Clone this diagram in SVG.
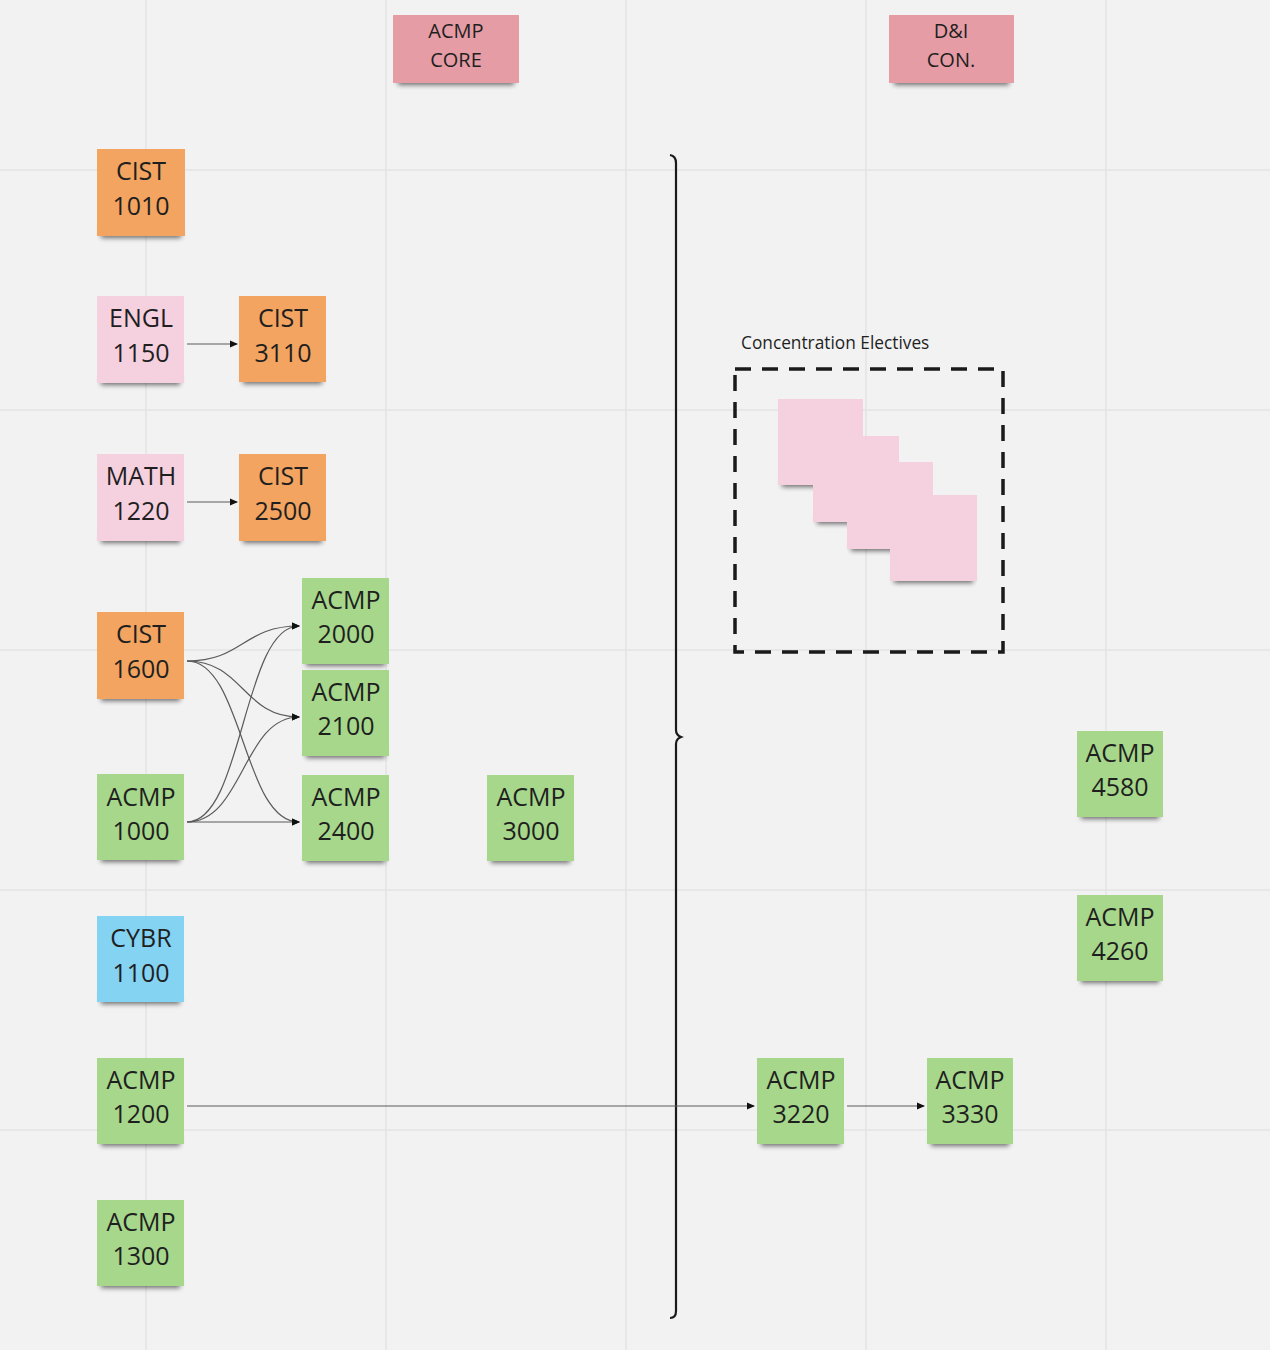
<svg xmlns="http://www.w3.org/2000/svg" width="1270" height="1350" viewBox="0 0 1270 1350">
<defs>
<filter id="sh" x="-20%" y="-100%" width="140%" height="300%"><feGaussianBlur stdDeviation="2.5"/></filter>
<marker id="ah" markerWidth="8" markerHeight="8" refX="7" refY="4" orient="auto" markerUnits="userSpaceOnUse"><path d="M0,0.5 L8,4 L0,7.5 Z" fill="#111"/></marker>
</defs>
<style>
.grid{stroke:#e3e3e3;stroke-width:1.5}
.shadow{fill:#000;opacity:.55;filter:url(#sh)}
.or{fill:#f2a460}
.pk{fill:#f5d0df}
.gr{fill:#a6d78b}
.bl{fill:#84d3f3}
.hd{fill:#e59ca5}
.t{font-family:"Open Sans","Liberation Sans",sans-serif;font-size:25px;fill:#1f1f1f;text-anchor:middle}
.th{font-family:"Open Sans","Liberation Sans",sans-serif;font-size:20px;fill:#1f1f1f;text-anchor:middle}
.cn{fill:none;stroke:#5a5a5a;stroke-width:1.2;marker-end:url(#ah)}
</style>
<rect width="1270" height="1350" fill="#f2f2f2"/>
<g id="grid">
<line class="grid" x1="146" y1="0" x2="146" y2="1350"/>
<line class="grid" x1="386" y1="0" x2="386" y2="1350"/>
<line class="grid" x1="626" y1="0" x2="626" y2="1350"/>
<line class="grid" x1="866" y1="0" x2="866" y2="1350"/>
<line class="grid" x1="1106" y1="0" x2="1106" y2="1350"/>
<line class="grid" x1="0" y1="170" x2="1270" y2="170"/>
<line class="grid" x1="0" y1="410" x2="1270" y2="410"/>
<line class="grid" x1="0" y1="650" x2="1270" y2="650"/>
<line class="grid" x1="0" y1="890" x2="1270" y2="890"/>
<line class="grid" x1="0" y1="1130" x2="1270" y2="1130"/>
</g>

<g id="bracket"><path d="M670,155 Q676,156 676,163 L676,730 Q676,735 681,737 Q676,739 676,744 L676,1311 Q676,1318 670,1318" fill="none" stroke="#1a1a1a" stroke-width="2.2"/></g>

<g id="electives">
<text x="741" y="349" font-family="'Open Sans','Liberation Sans',sans-serif" font-size="17.3" fill="#1f1f1f">Concentration Electives</text>
<rect x="735" y="369" width="268" height="283" fill="none" stroke="#1a1a1a" stroke-width="3.5" stroke-dasharray="16 11"/>
<g id="e1"><rect class="shadow" x="782" y="477" width="78" height="10"/><rect class="pk" x="778" y="399" width="85" height="86"/></g>
<g id="e2"><rect class="shadow" x="817" y="514" width="78" height="10"/><rect class="pk" x="813" y="436" width="86" height="86"/></g>
<g id="e3"><rect class="shadow" x="851" y="541" width="78" height="10"/><rect class="pk" x="847" y="462" width="86" height="87"/></g>
<g id="e4"><rect class="shadow" x="894" y="573" width="79" height="10"/><rect class="pk" x="890" y="495" width="87" height="86"/></g>
</g>

<g id="connectors">
<line class="cn" x1="187" y1="344" x2="237" y2="344"/>
<line class="cn" x1="187" y1="502" x2="237" y2="502"/>
<path class="cn" d="M187,661 C243,661 243,626 299,626"/>
<path class="cn" d="M187,661 C243,661 243,717 299,717"/>
<path class="cn" d="M187,661 C243,661 243,822 299,822"/>
<path class="cn" d="M187,822 C243,822 243,626 299,626"/>
<path class="cn" d="M187,822 C243,822 243,717 299,717"/>
<line class="cn" x1="187" y1="822" x2="299" y2="822"/>
<line class="cn" x1="187" y1="1106" x2="754" y2="1106"/>
<line class="cn" x1="847" y1="1106" x2="924" y2="1106"/>
</g>

<g id="acmp-core"><rect class="shadow" x="398" y="75" width="116" height="10"/><rect class="hd" x="393" y="15" width="126" height="68"/><text class="th"><tspan x="456" y="38">ACMP</tspan><tspan x="456" y="67">CORE</tspan></text></g>
<g id="di-con"><rect class="shadow" x="894" y="75" width="115" height="10"/><rect class="hd" x="889" y="15" width="125" height="68"/><text class="th"><tspan x="951" y="38">D&amp;I</tspan><tspan x="951" y="67">CON.</tspan></text></g>

<g id="cist1010"><rect class="shadow" x="101" y="228" width="80" height="10"/><rect class="or" x="97" y="149" width="88" height="87"/><text class="t"><tspan x="141" y="180">CIST</tspan><tspan x="141" y="215">1010</tspan></text></g>
<g id="engl1150"><rect class="shadow" x="101" y="375" width="79" height="10"/><rect class="pk" x="97" y="296" width="87" height="87"/><text class="t"><tspan x="141" y="327">ENGL</tspan><tspan x="141" y="362">1150</tspan></text></g>
<g id="cist3110"><rect class="shadow" x="243" y="374" width="79" height="10"/><rect class="or" x="239" y="296" width="87" height="86"/><text class="t"><tspan x="283" y="327">CIST</tspan><tspan x="283" y="362">3110</tspan></text></g>
<g id="math1220"><rect class="shadow" x="101" y="533" width="79" height="10"/><rect class="pk" x="97" y="454" width="87" height="87"/><text class="t"><tspan x="141" y="485">MATH</tspan><tspan x="141" y="520">1220</tspan></text></g>
<g id="cist2500"><rect class="shadow" x="243" y="533" width="79" height="10"/><rect class="or" x="239" y="454" width="87" height="87"/><text class="t"><tspan x="283" y="485">CIST</tspan><tspan x="283" y="520">2500</tspan></text></g>
<g id="cist1600"><rect class="shadow" x="101" y="691" width="79" height="10"/><rect class="or" x="97" y="612" width="87" height="87"/><text class="t"><tspan x="141" y="643">CIST</tspan><tspan x="141" y="678">1600</tspan></text></g>
<g id="acmp2000"><rect class="shadow" x="306" y="656" width="79" height="10"/><rect class="gr" x="302" y="578" width="87" height="86"/><text class="t"><tspan x="346" y="609">ACMP</tspan><tspan x="346" y="643">2000</tspan></text></g>
<g id="acmp2100"><rect class="shadow" x="306" y="748" width="79" height="10"/><rect class="gr" x="302" y="670" width="87" height="86"/><text class="t"><tspan x="346" y="701">ACMP</tspan><tspan x="346" y="735">2100</tspan></text></g>
<g id="acmp2400"><rect class="shadow" x="306" y="853" width="79" height="10"/><rect class="gr" x="302" y="775" width="87" height="86"/><text class="t"><tspan x="346" y="806">ACMP</tspan><tspan x="346" y="840">2400</tspan></text></g>
<g id="acmp1000"><rect class="shadow" x="101" y="852" width="79" height="10"/><rect class="gr" x="97" y="774" width="87" height="86"/><text class="t"><tspan x="141" y="806">ACMP</tspan><tspan x="141" y="840">1000</tspan></text></g>
<g id="acmp3000"><rect class="shadow" x="491" y="853" width="79" height="10"/><rect class="gr" x="487" y="775" width="87" height="86"/><text class="t"><tspan x="531" y="806">ACMP</tspan><tspan x="531" y="840">3000</tspan></text></g>
<g id="cybr1100"><rect class="shadow" x="101" y="994" width="79" height="10"/><rect class="bl" x="97" y="916" width="87" height="86"/><text class="t"><tspan x="141" y="947">CYBR</tspan><tspan x="141" y="982">1100</tspan></text></g>
<g id="acmp1200"><rect class="shadow" x="101" y="1136" width="79" height="10"/><rect class="gr" x="97" y="1058" width="87" height="86"/><text class="t"><tspan x="141" y="1089">ACMP</tspan><tspan x="141" y="1123">1200</tspan></text></g>
<g id="acmp1300"><rect class="shadow" x="101" y="1278" width="79" height="10"/><rect class="gr" x="97" y="1200" width="87" height="86"/><text class="t"><tspan x="141" y="1231">ACMP</tspan><tspan x="141" y="1265">1300</tspan></text></g>
<g id="acmp3220"><rect class="shadow" x="761" y="1136" width="79" height="10"/><rect class="gr" x="757" y="1058" width="87" height="86"/><text class="t"><tspan x="801" y="1089">ACMP</tspan><tspan x="801" y="1123">3220</tspan></text></g>
<g id="acmp3330"><rect class="shadow" x="931" y="1136" width="78" height="10"/><rect class="gr" x="927" y="1058" width="86" height="86"/><text class="t"><tspan x="970" y="1089">ACMP</tspan><tspan x="970" y="1123">3330</tspan></text></g>
<g id="acmp4580"><rect class="shadow" x="1081" y="809" width="78" height="10"/><rect class="gr" x="1077" y="731" width="86" height="86"/><text class="t"><tspan x="1120" y="762">ACMP</tspan><tspan x="1120" y="796">4580</tspan></text></g>
<g id="acmp4260"><rect class="shadow" x="1081" y="973" width="78" height="10"/><rect class="gr" x="1077" y="895" width="86" height="86"/><text class="t"><tspan x="1120" y="926">ACMP</tspan><tspan x="1120" y="960">4260</tspan></text></g>
</svg>
